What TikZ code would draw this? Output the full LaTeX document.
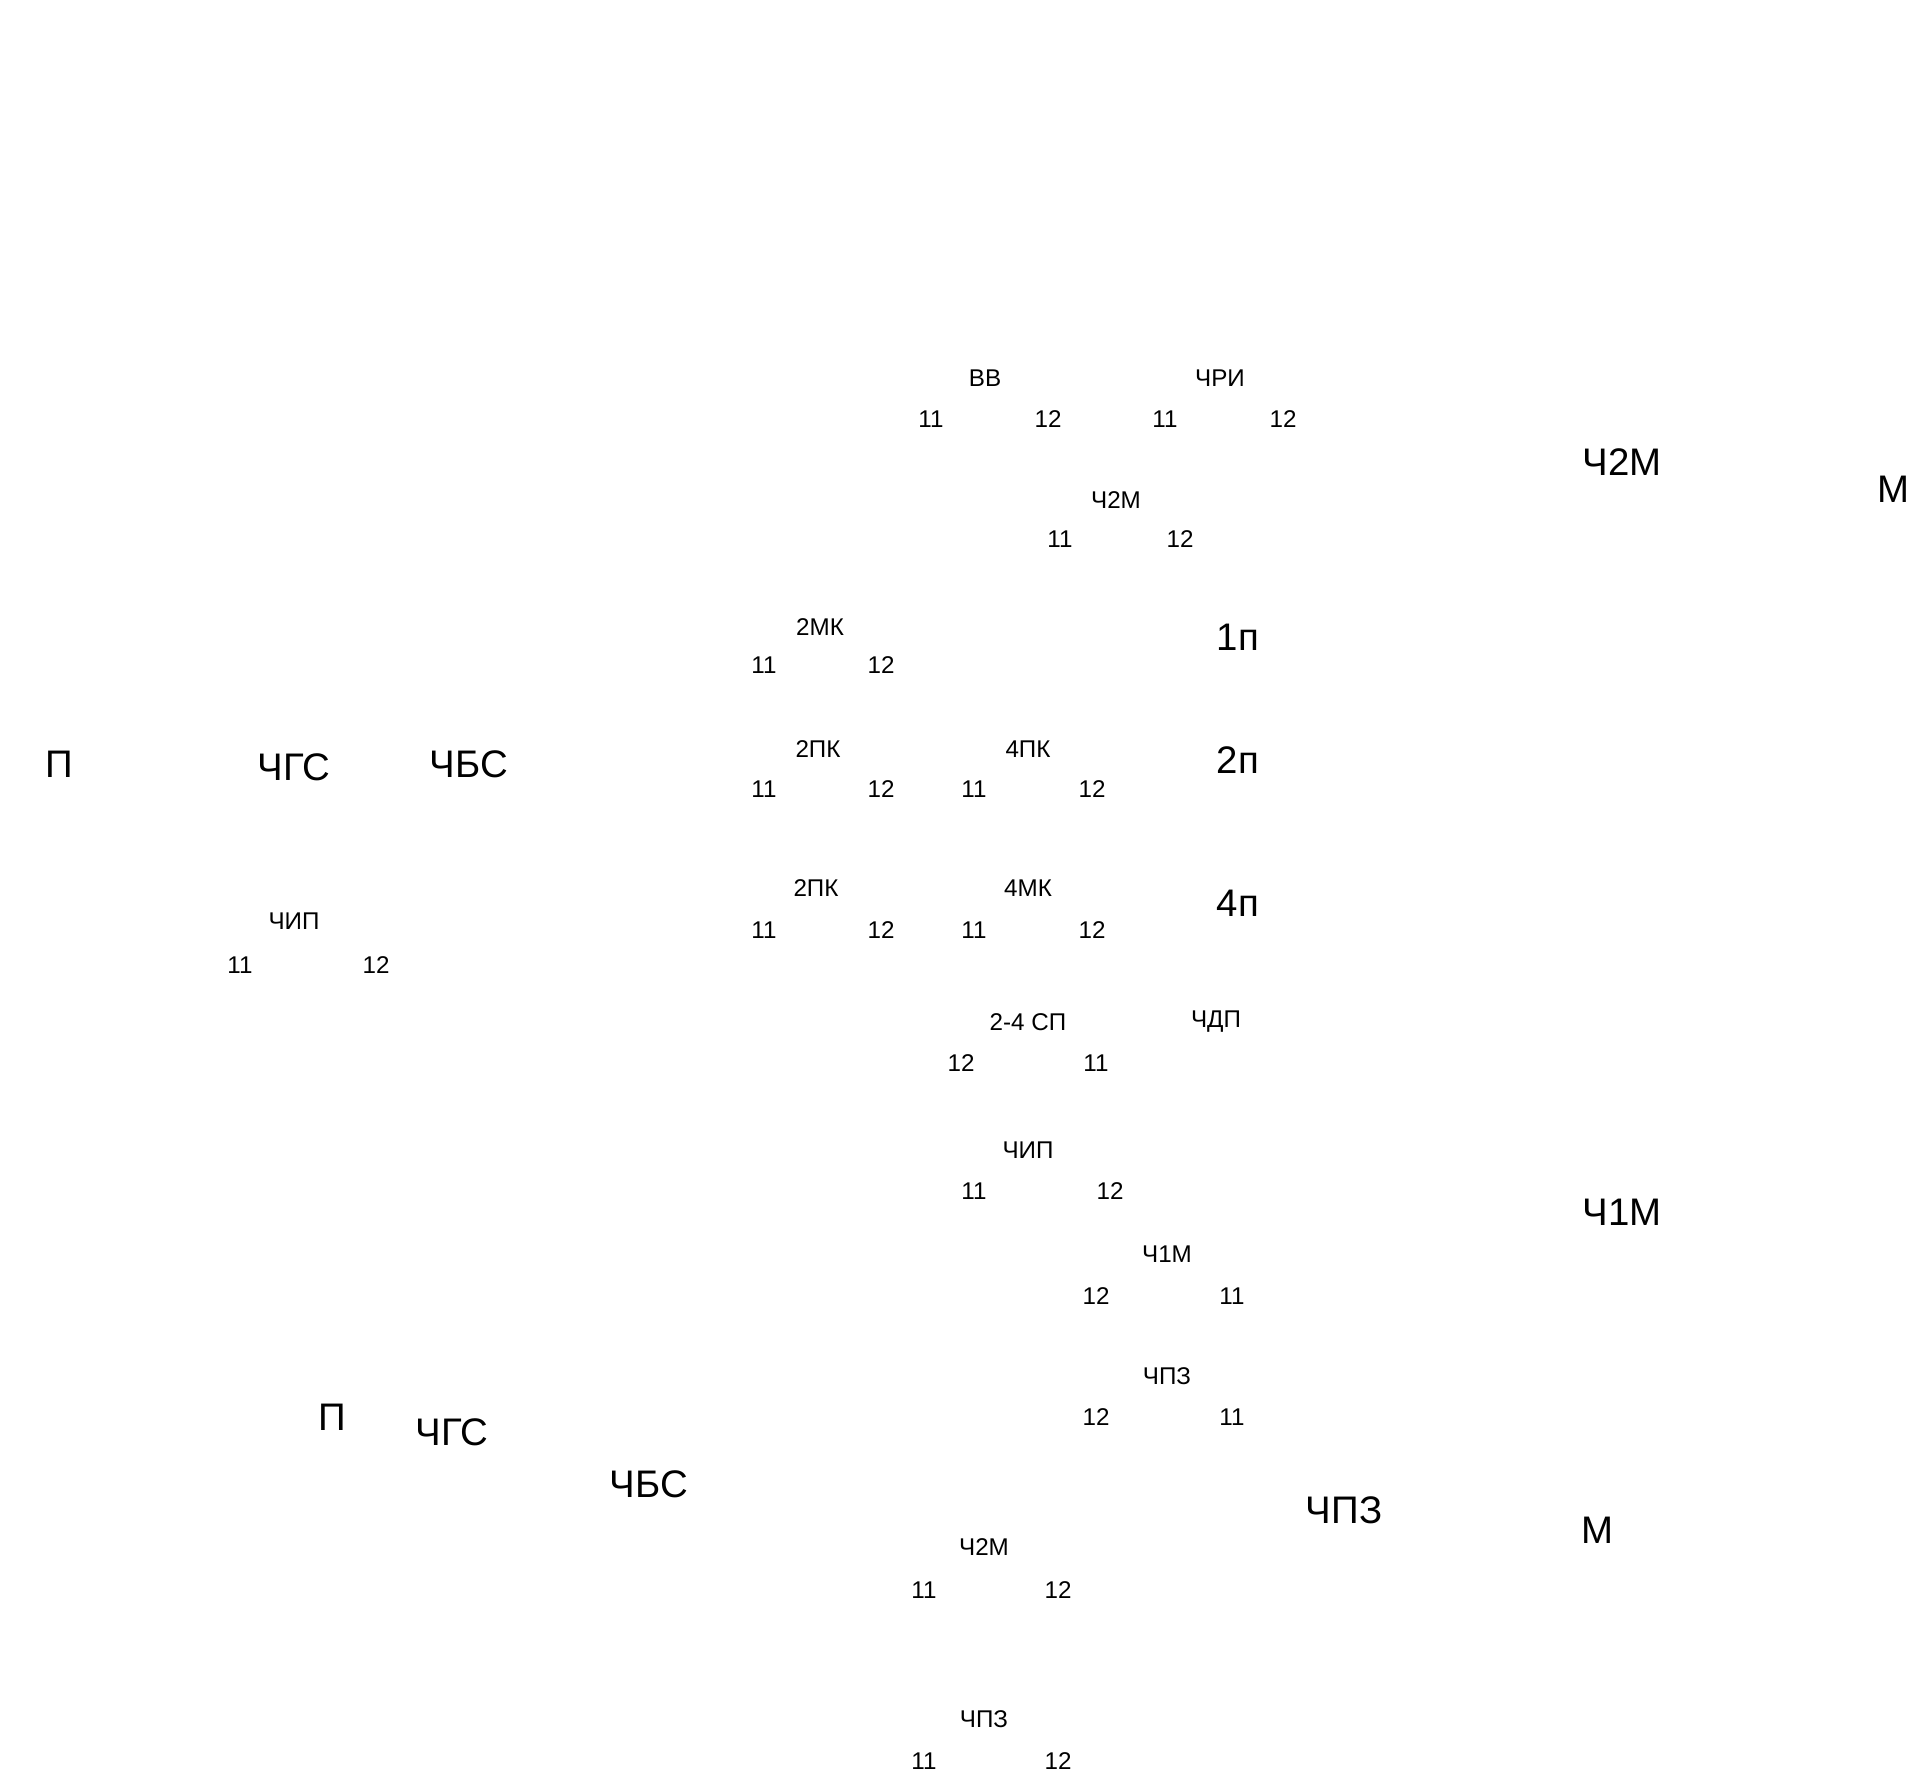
\documentclass[tikz,border=0pt]{standalone}
\usepackage{fontspec}
\setmainfont{Liberation Sans}
\tikzset{
  sm/.style={inner sep=0pt, font=\fontsize{12.1pt}{14pt}\selectfont},
  lg/.style={inner sep=0pt, font=\fontsize{19.2pt}{22pt}\selectfont},
}
\begin{document}
\begin{tikzpicture}[x=0.5pt,y=-0.5pt]
\useasboundingbox (0,0) rectangle (1931,1778);
% top row
\node[sm] (vv) at (985,378) {ВВ};
\node[sm] (chri) at (1220,378) {ЧРИ};
\node[sm] (vv11) at (931,419) {11};
\node[sm] (vv12) at (1048,419) {12};
\node[sm] (chri11) at (1165,419) {11};
\node[sm] (chri12) at (1283,419) {12};
\node[lg] (ch2mA) at (1622,462) {Ч2М};
\node[lg] (mA) at (1893,489) {М};
\node[sm] (ch2mB) at (1116,500) {Ч2М};
\node[sm] (ch2mB11) at (1060,539) {11};
\node[sm] (ch2mB12) at (1180,539) {12};
% 2MK row
\node[sm] (mk2) at (820,627) {2МК};
\node[sm] (mk2a) at (764,665) {11};
\node[sm] (mk2b) at (881,665) {12};
\node[lg] (p1) at (1238,637) {1п};
% left
\node[lg] (pA) at (59,764) {П};
\node[lg] (chgsA) at (294,767) {ЧГС};
\node[lg] (chbsA) at (469,764) {ЧБС};
% 2PK/4PK row
\node[sm] (pk2) at (818,749) {2ПК};
\node[sm] (pk4) at (1028,749) {4ПК};
\node[sm] (pk2a) at (764,789) {11};
\node[sm] (pk2b) at (881,789) {12};
\node[sm] (pk4a) at (974,789) {11};
\node[sm] (pk4b) at (1092,789) {12};
\node[lg] (p2) at (1238,760) {2п};
% left CHIP
\node[sm] (chipA) at (294,921) {ЧИП};
\node[sm] (chipAa) at (240,965) {11};
\node[sm] (chipAb) at (376,965) {12};
% 2PK/4MK row
\node[sm] (pk2c) at (816,888) {2ПК};
\node[sm] (mk4) at (1028,888) {4МК};
\node[sm] (pk2ca) at (764,930) {11};
\node[sm] (pk2cb) at (881,930) {12};
\node[sm] (mk4a) at (974,930) {11};
\node[sm] (mk4b) at (1092,930) {12};
\node[lg] (p4) at (1238,903) {4п};
% 2-4 SP
\node[sm] (sp) at (1028,1022) {2-4 СП};
\node[sm] (chdp) at (1216,1022) {ЧДП};
\node[sm] (spa) at (961,1063) {12};
\node[sm] (spb) at (1096,1063) {11};
% CHIP
\node[sm] (chipB) at (1028,1150) {ЧИП};
\node[sm] (chipBa) at (974,1191) {11};
\node[sm] (chipBb) at (1110,1191) {12};
\node[lg] (ch1mA) at (1622,1212) {Ч1М};
% CH1M
\node[sm] (ch1mB) at (1167,1254) {Ч1М};
\node[sm] (ch1mBa) at (1096,1296) {12};
\node[sm] (ch1mBb) at (1232,1296) {11};
% CHPZ
\node[sm] (chpzA) at (1167,1376) {ЧПЗ};
\node[sm] (chpzAa) at (1096,1417) {12};
\node[sm] (chpzAb) at (1232,1417) {11};
% bottom left
\node[lg] (pB) at (332,1417) {П};
\node[lg] (chgsB) at (452,1432) {ЧГС};
\node[lg] (chbsB) at (649,1484) {ЧБС};
\node[lg] (chpzB) at (1344,1510) {ЧПЗ};
\node[lg] (mB) at (1597,1530) {М};
% bottom
\node[sm] (ch2mC) at (984,1547) {Ч2М};
\node[sm] (ch2mCa) at (924,1590) {11};
\node[sm] (ch2mCb) at (1058,1590) {12};
\node[sm] (chpzC) at (984,1719) {ЧПЗ};
\node[sm] (chpzCa) at (924,1761) {11};
\node[sm] (chpzCb) at (1058,1761) {12};
\end{tikzpicture}
\end{document}
